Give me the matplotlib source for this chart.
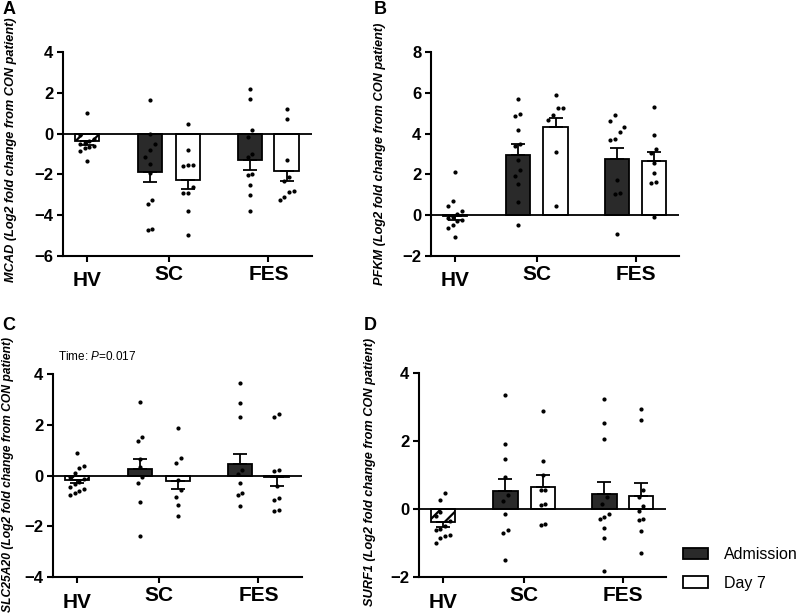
import matplotlib.pyplot as plt
import numpy as np

plt.rcParams['font.family'] = ['Liberation Sans', 'DejaVu Sans']
plt.rcParams['mathtext.fontset'] = 'custom'
plt.rcParams['mathtext.rm'] = 'Liberation Sans'
plt.rcParams['mathtext.it'] = 'Liberation Sans:italic'
plt.rcParams['hatch.linewidth'] = 1.6

groups = ['HV', 'SC', 'FES']
series = ['Admission', 'Day 7']

# bar order: HV, SC admission, SC day 7, FES admission, FES day 7
mcad_mean = [-0.35, -1.89, -2.26, -1.31, -1.84]
mcad_sem = [0.20, 0.49, 0.44, 0.49, 0.46]
mcad_pts = [
    [1.03, -0.08, -0.25, -0.35, -0.45, -0.5, -0.6, -0.65, -0.7, -0.85, -1.35],
    [1.67, 0.0, -0.5, -0.8, -1.15, -1.5, -1.95, -3.25, -3.47, -4.67, -4.75],
    [0.49, -0.82, -1.55, -1.56, -1.58, -2.6, -2.9, -2.92, -3.8, -4.97],
    [2.21, 1.72, 0.16, -0.16, -1.0, -1.15, -2.0, -2.02, -2.54, -3.0, -3.77],
    [1.23, 0.74, -1.31, -2.13, -2.3, -2.82, -2.84, -3.1, -3.25],
]

pfkm_mean = [-0.05, 2.96, 4.30, 2.75, 2.64]
pfkm_sem = [0.20, 0.54, 0.46, 0.54, 0.45]
pfkm_pts = [
    [2.14, 0.7, 0.43, 0.23, 0.07, -0.07, -0.15, -0.23, -0.3, -0.47, -0.64, -1.05],
    [5.7, 4.98, 4.88, 4.16, 3.5, 3.37, 2.72, 2.23, 1.93, 1.54, 0.64, -0.49],
    [5.88, 5.25, 5.26, 4.93, 4.68, 3.09, 0.43],
    [4.93, 4.6, 4.32, 4.06, 3.73, 3.7, 1.73, 1.11, 1.05, -0.93],
    [5.29, 3.94, 3.24, 3.04, 2.55, 2.09, 1.65, 1.6, -0.11],
]

slc_mean = [-0.17, 0.25, -0.21, 0.45, -0.04]
slc_sem = [0.11, 0.39, 0.33, 0.39, 0.39]
slc_pts = [
    [0.88, 0.36, 0.28, 0.1, -0.05, -0.15, -0.25, -0.35, -0.45, -0.55, -0.62, -0.7, -0.78],
    [2.89, 1.53, 1.34, 0.64, 0.35, -0.04, -0.3, -1.06, -2.37],
    [1.86, 0.68, 0.51, -0.17, -0.59, -0.83, -1.15, -1.61],
    [3.63, 2.87, 2.32, 0.2, 0.07, -0.28, -0.67, -0.76, -1.19],
    [2.43, 2.3, 0.2, 0.16, -0.43, -0.89, -0.96, -1.35, -1.38],
]

surf_mean = [-0.38, 0.52, 0.65, 0.43, 0.37]
surf_sem = [0.15, 0.35, 0.34, 0.36, 0.39]
surf_pts = [
    [0.47, 0.26, -0.1, -0.2, -0.35, -0.5, -0.58, -0.62, -0.75, -0.8, -0.85, -1.0],
    [3.34, 1.9, 1.48, 0.94, 0.4, 0.25, -0.14, -0.63, -0.7, -1.51],
    [2.88, 1.4, 0.99, 0.55, 0.57, 0.16, 0.11, -0.45, -0.46],
    [3.24, 2.53, 2.07, 0.35, 0.14, -0.14, -0.24, -0.28, -0.56, -0.84, -1.83],
    [2.95, 2.63, 0.55, 0.35, 0.08, -0.06, -0.28, -0.33, -0.65, -1.28],
]

bar_x = [1.0, 3.62, 5.2, 7.77, 9.3]
tick_x = [1.0, 4.41, 8.54]
dark = '#2a2a2a'


def spread(vals, thr, step):
    vals = np.asarray(vals, dtype=float)
    order = np.argsort(vals)
    offs = np.zeros(len(vals))
    i = 0
    while i < len(order):
        j = i
        while j + 1 < len(order) and vals[order[j + 1]] - vals[order[j]] < thr:
            j += 1
        n = j - i + 1
        ne = min(n, 4)
        for k in range(n):
            offs[order[i + k]] = ((k % ne) - (ne - 1) / 2) * step
        i = j + 1
    return offs


def panel(ax, mean, sem, pts, ylim):
    faces = ['white', dark, 'white', dark, 'white']
    for i in range(5):
        hatch = '//' if i == 0 else None
        ax.bar(bar_x[i], mean[i], width=1.02, color=faces[i], edgecolor='black',
               linewidth=1.3, hatch=hatch, zorder=2)
        lo = sem[i] if mean[i] < 0 else 0
        hi = sem[i] if mean[i] >= 0 else 0
        ax.errorbar(bar_x[i], mean[i], yerr=[[lo], [hi]], fmt='none', ecolor='black',
                    elinewidth=1.3, capsize=5, capthick=1.3, zorder=3)
        off = spread(pts[i], 0.035 * (ylim[1] - ylim[0]), 0.2)
        ax.plot(bar_x[i] + off, pts[i], 'o', ms=2.0, color='black', zorder=4)
    ax.axhline(0, color='black', lw=1.3, zorder=3)
    ax.set_xlim(0, 10.35)
    ax.set_ylim(*ylim)
    ax.set_yticks(np.arange(ylim[0], ylim[1] + 1, 2))
    ax.set_xticks(tick_x)
    ax.set_xticklabels([])
    for s in ['top', 'right']:
        ax.spines[s].set_visible(False)
    for s in ['left', 'bottom']:
        ax.spines[s].set_linewidth(1.5)
    ax.tick_params(width=1.5, length=4, labelsize=12, pad=3)
    for t in ax.get_yticklabels():
        t.set_fontweight('bold')
    for k, g in enumerate(groups):
        dy = -18 if k == 0 else -13.3
        ax.annotate(g, (tick_x[k], 0), xycoords=('data', 'axes fraction'),
                    xytext=(0, dy), textcoords='offset points',
                    ha='center', va='center', fontsize=15, fontweight='bold')


fig = plt.figure(figsize=(7.96, 6.15), dpi=100)
W, H = 796, 615


def box(l, r, b, t):
    return [l / W, 1 - b / H, (r - l) / W, (b - t) / H]


axA = fig.add_axes(box(63, 312, 256, 52))
axB = fig.add_axes(box(431, 679, 256, 52))
axC = fig.add_axes(box(53, 302, 577, 374))
axD = fig.add_axes(box(419, 666, 577, 373))

panel(axA, mcad_mean, mcad_sem, mcad_pts, (-6, 4))
panel(axB, pfkm_mean, pfkm_sem, pfkm_pts, (-2, 8))
panel(axC, slc_mean, slc_sem, slc_pts, (-4, 4))
panel(axD, surf_mean, surf_sem, surf_pts, (-2, 4))

ylabels = [('MCAD', 11, 150, 9.2), ('PFKM', 380, 154, 9.2),
           ('SLC25A20', 8, 474, 8.7), ('SURF1', 370, 472, 9.2)]
for gene, x, y, fs in ylabels:
    fig.text(x / W, 1 - y / H, gene + ' (Log2 fold change from CON patient)',
             rotation=90, ha='center', va='center', fontsize=fs,
             fontweight='bold', fontstyle='italic')

for letter, x, y in [('A', 9, 9), ('B', 380, 9), ('C', 9, 325), ('D', 370, 325)]:
    fig.text(x / W, 1 - y / H, letter, ha='center', va='center',
             fontsize=13, fontweight='bold')

fig.text(58 / W, 1 - 357 / H, 'Time: $\\it{P}$=0.017', ha='left', va='center', fontsize=8.5)

h1 = plt.Rectangle((0, 0), 1, 1, facecolor=dark, edgecolor='black', linewidth=1.3)
h2 = plt.Rectangle((0, 0), 1, 1, facecolor='white', edgecolor='black', linewidth=1.3)
fig.legend([h1, h2], series, loc='upper left', bbox_to_anchor=(683 / W, 1 - 547 / H),
           frameon=False, fontsize=11.5, handlelength=1.55, handleheight=0.7,
           handletextpad=1.0, labelspacing=0.85, borderpad=0, borderaxespad=0)

fig.savefig('out.png', dpi=100, facecolor='white')
